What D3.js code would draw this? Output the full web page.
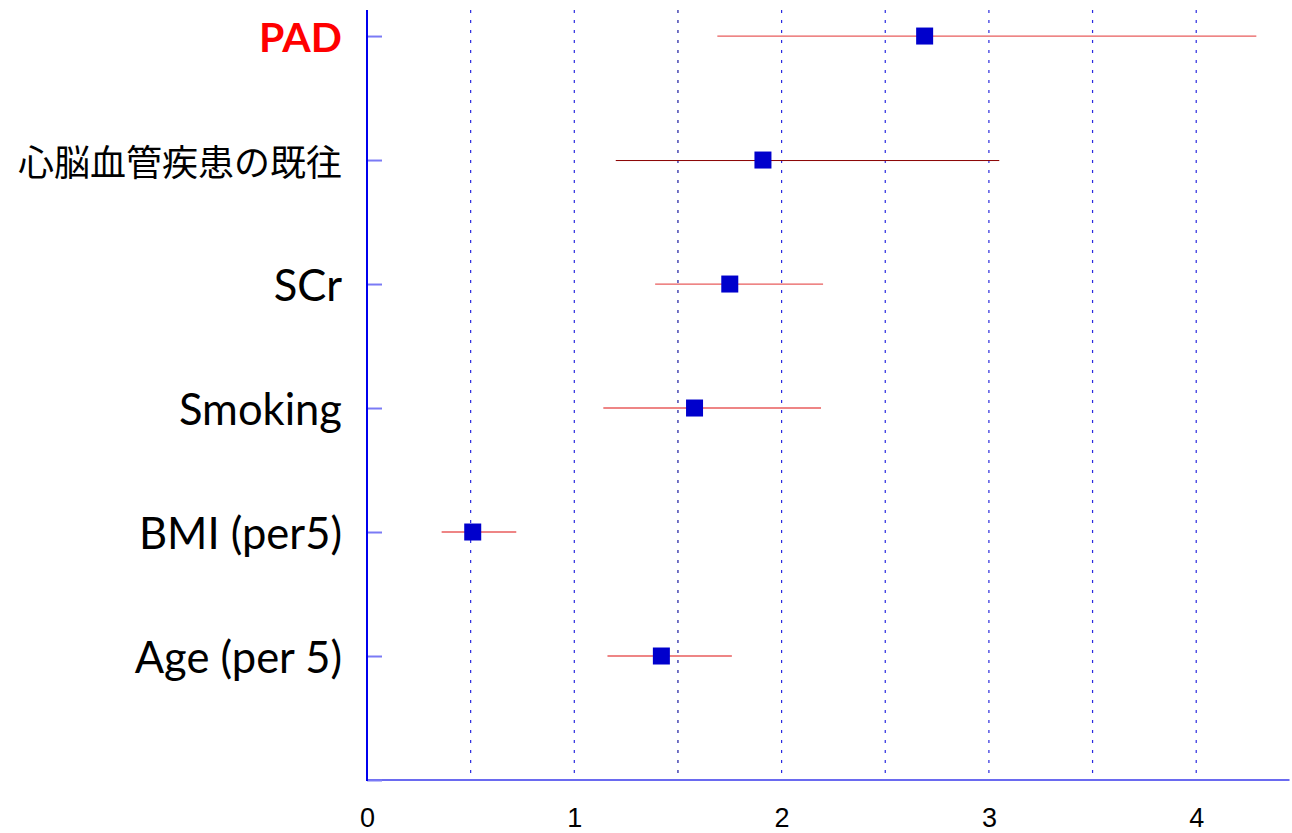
<!DOCTYPE html>
<html>
<head>
<meta charset="utf-8">
<script src="https://cdn.jsdelivr.net/npm/d3@7"></script>
<style>
  html, body { margin: 0; padding: 0; background: #fff; }
  svg { display: block; }
</style>
</head>
<body>
<svg id="chart" width="1292" height="833"></svg>
<script>
// Odds ratios with 95% confidence intervals, top row first
const categories = ["PAD", "心脳血管疾患の既往", "SCr", "Smoking", "BMI (per5)", "Age (per 5)"];
const oddsRatio  = [2.69, 1.91, 1.75, 1.58, 0.51, 1.42];
const ciLower    = [1.69, 1.20, 1.39, 1.14, 0.36, 1.16];
const ciUpper    = [4.29, 3.05, 2.20, 2.19, 0.72, 1.76];
const xTicks     = [0, 1, 2, 3, 4];
const gridValues = [0.5, 1, 1.5, 2, 2.5, 3, 3.5, 4];

const rows = categories.map((c, i) => ({
  name: c,
  pos: categories.length - i,
  or: oddsRatio[i],
  lo: ciLower[i],
  hi: ciUpper[i]
}));

const svg = d3.select("#chart");
const plotLeft = 367, plotRight = 1289.5, plotTop = 10, plotBottom = 780;

const x = d3.scaleLinear().domain([0, 4.45]).range([plotLeft, plotRight]);
const y = d3.scaleLinear().domain([0, 6.21]).range([plotBottom, plotTop]);

// vertical dotted gridlines
svg.append("g").selectAll("line")
  .data(gridValues).join("line")
  .attr("x1", d => x(d)).attr("x2", d => x(d))
  .attr("y1", y(6.21)).attr("y2", y(0))
  .attr("stroke", d => d === 1.5 ? "#1a1aa0" : "#2a2ae0")
  .attr("stroke-width", 1.2)
  .attr("stroke-dasharray", "3,7");

// x axis baseline
svg.append("line")
  .attr("x1", x(0)).attr("x2", plotRight)
  .attr("y1", plotBottom).attr("y2", plotBottom)
  .attr("stroke", "#6a6af0").attr("stroke-width", 2);

// x tick labels
const xAxis = d3.axisBottom(x).tickValues(xTicks).tickSize(0).tickPadding(28)
  .tickFormat(d3.format("d"));
const gx = svg.append("g").attr("transform", `translate(0,${plotBottom})`).call(xAxis);
gx.select(".domain").remove();
gx.selectAll("text")
  .attr("font-family", "'Liberation Sans', Arial, sans-serif")
  .attr("font-size", 27)
  .attr("fill", "#000");

// y axis line and inward ticks
const yAxis = d3.axisRight(y).tickValues(d3.range(0, 7)).tickSize(15).tickFormat("");
const gy = svg.append("g").attr("transform", `translate(${plotLeft},0)`).call(yAxis);
gy.select(".domain").remove();
gy.selectAll(".tick line").attr("stroke", "#7a7af5").attr("stroke-width", 2);
svg.append("line")
  .attr("x1", plotLeft).attr("x2", plotLeft)
  .attr("y1", plotTop).attr("y2", plotBottom + 1)
  .attr("stroke", "#0000ee").attr("stroke-width", 2);

// category labels
svg.append("g").selectAll("text")
  .data(rows).join("text")
  .attr("x", 342)
  .attr("y", d => y(d.pos))
  .attr("text-anchor", "end")
  .attr("dominant-baseline", "central")
  .attr("font-family", d => d.name === "心脳血管疾患の既往"
      ? "'Noto Sans CJK JP', sans-serif" : "Lato, 'Open Sans', sans-serif")
  .attr("font-size", d => d.name === "PAD" ? 41 : (d.name === "心脳血管疾患の既往" ? 36 : 43.5))
  .attr("font-weight", d => d.name === "PAD" ? "bold" : "normal")
  .attr("fill", d => d.name === "PAD" ? "#ff0000" : "#000")
  .text(d => d.name);

// confidence interval lines
svg.append("g").selectAll("line")
  .data(rows).join("line")
  .attr("x1", d => x(d.lo)).attr("x2", d => x(d.hi))
  .attr("y1", d => y(d.pos) + (d.name === "心脳血管疾患の既往" ? 0.5 : 0))
  .attr("y2", d => y(d.pos) + (d.name === "心脳血管疾患の既往" ? 0.5 : 0))
  .attr("stroke", d => d.name === "心脳血管疾患の既往" ? "#8a0000" : "#e85c5c")
  .attr("stroke-width", d => d.name === "心脳血管疾患の既往" ? 1 : 1.3);

// point estimates
const s = 17;
svg.append("g").selectAll("rect")
  .data(rows).join("rect")
  .attr("x", d => x(d.or) - s / 2)
  .attr("y", d => y(d.pos) - s / 2)
  .attr("width", s).attr("height", s)
  .attr("fill", "#0000cc");
</script>
</body>
</html>
